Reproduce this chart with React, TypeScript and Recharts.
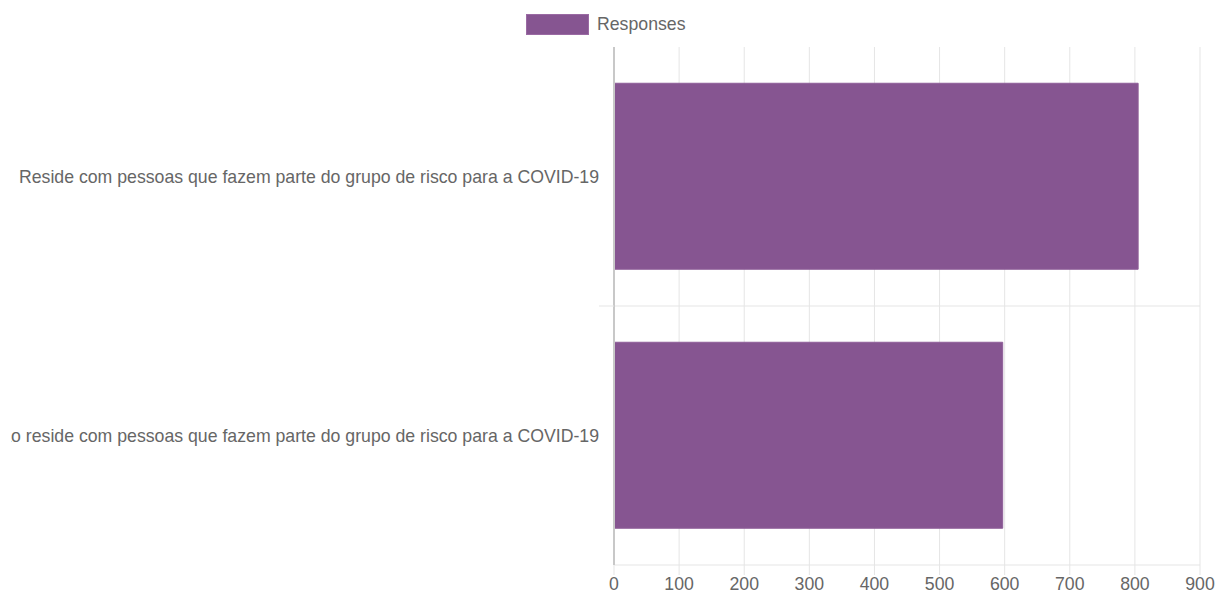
import React from 'react';
import { BarChart, Bar, XAxis, YAxis, CartesianGrid } from 'recharts';

const categorias = [
  'Reside com pessoas que fazem parte do grupo de risco para a COVID-19',
  'Não reside com pessoas que fazem parte do grupo de risco para a COVID-19',
];
const respostas = [805, 597];
const ticksX = [0, 100, 200, 300, 400, 500, 600, 700, 800, 900];

const data = categorias.map((c, i) => ({ categoria: c, Responses: respostas[i] }));

const W = 1217;
const H = 593;
const AXIS_H = 28;
const M = { top: 47, right: 17, bottom: 0, left: 0 };
const BAND = (H - M.top - AXIS_H) / categorias.length;
const FONT = 'Liberation Sans, Arial, Helvetica, sans-serif';
const FS = 17.7;

// the source chart cuts long labels at its left edge
const CategoryTick = (props: any) => {
  const { x, y, payload, index } = props;
  return (
    <g>
      <defs>
        <clipPath id={`lbl-clip-${index}`}>
          <rect x={11} y={y - 20} width={x} height={40} />
        </clipPath>
      </defs>
      <text
        x={x}
        y={y}
        dy={6}
        textAnchor="end"
        fill="#666"
        fontSize={FS}
        fontFamily={FONT}
        clipPath={`url(#lbl-clip-${index})`}
      >
        {payload.value}
      </text>
      {index < categorias.length - 1 && (
        <line x1={x} x2={x + 15} y1={y + BAND / 2} y2={y + BAND / 2} stroke="#e5e5e5" />
      )}
    </g>
  );
};

const App: React.FC = () => {
  return (
    <div style={{ position: 'absolute', left: 0, top: 0, width: W, height: H, background: '#fff' }}>
      <div
        style={{
          position: 'absolute',
          left: 526,
          top: 14,
          height: 21,
          display: 'flex',
          alignItems: 'center',
          fontFamily: FONT,
          fontSize: FS,
          color: '#666',
        }}
      >
        <span
          style={{
            display: 'inline-block',
            width: 61,
            height: 19,
            background: '#865591',
            border: '1px solid #9a6aa3',
            marginRight: 8,
          }}
        />
        Responses
      </div>
      <BarChart
        width={W}
        height={H}
        data={data}
        layout="vertical"
        margin={M}
        barCategoryGap="14%"
      >
        <CartesianGrid
          stroke="#e5e5e5"
          horizontalCoordinatesGenerator={({ offset }: any) => [offset.top + offset.height / 2]}
        />
        <XAxis
          type="number"
          domain={[0, 900]}
          ticks={ticksX}
          interval={0}
          axisLine={{ stroke: '#e5e5e5' }}
          tickLine={{ stroke: '#e5e5e5' }}
          tickSize={10}
          tickMargin={2}
          height={AXIS_H}
          tick={{ fill: '#666', fontSize: FS, fontFamily: FONT }}
        />
        <YAxis
          type="category"
          dataKey="categoria"
          width={614}
          axisLine={{ stroke: '#c8c8c8', strokeWidth: 2 }}
          tickLine={false}
          tickSize={0}
          tickMargin={15}
          tick={<CategoryTick />}
        />
        <Bar
          dataKey="Responses"
          fill="#865591"
          stroke="#8f5f99"
          strokeWidth={1}
          isAnimationActive={false}
        />
      </BarChart>
    </div>
  );
};

export default App;
